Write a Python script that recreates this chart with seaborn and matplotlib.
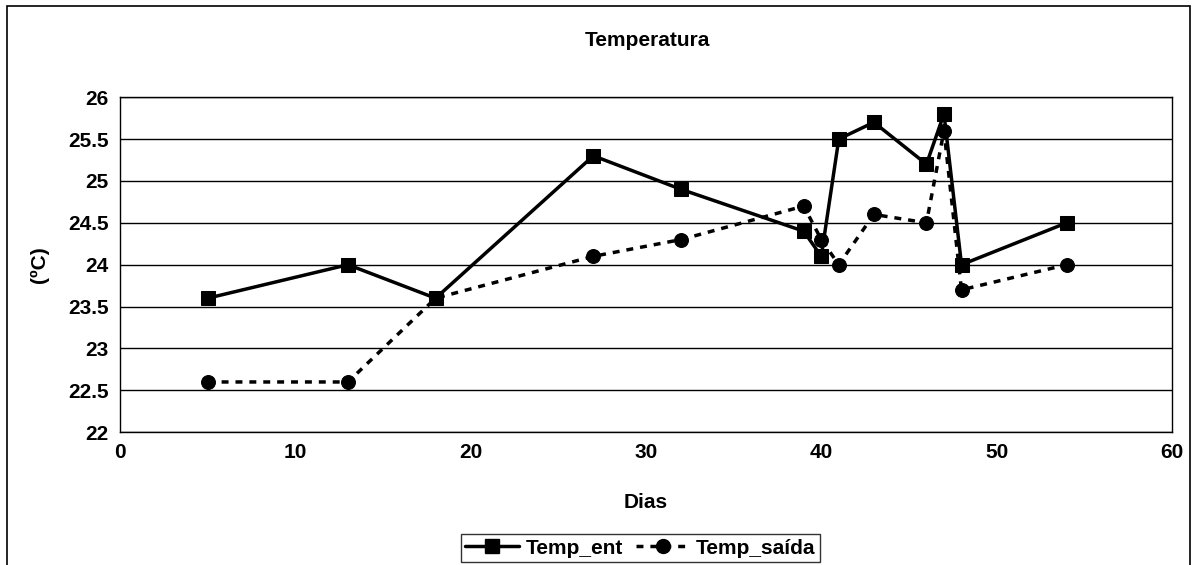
import numpy as np
import pandas as pd
import matplotlib
matplotlib.use("Agg")
import matplotlib.pyplot as plt
import seaborn as sns
from matplotlib.lines import Line2D
from matplotlib.patches import Rectangle

DIAS = [5, 13, 18, 27, 32, 39, 40, 41, 43, 46, 47, 48, 54]
TEMP_ENT = [23.6, 24.0, 23.6, 25.3, 24.9, 24.4, 24.1, 25.5, 25.7, 25.2, 25.8, 24.0, 24.5]
TEMP_SAIDA = [22.6, 22.6, 23.6, 24.1, 24.3, 24.7, 24.3, 24.0, 24.6, 24.5, 25.6, 23.7, 24.0]
SERIES = ["Temp_ent", "Temp_saída"]
Y_TICKS = [22, 22.5, 23, 23.5, 24, 24.5, 25, 25.5, 26]
X_TICKS = [0, 10, 20, 30, 40, 50, 60]

sns.set_style("white")
plt.rcParams["font.family"] = ["Liberation Sans", "DejaVu Sans"]
plt.rcParams["font.weight"] = "bold"
plt.rcParams["text.color"] = "black"
plt.rcParams["axes.labelcolor"] = "black"
plt.rcParams["xtick.color"] = "black"
plt.rcParams["ytick.color"] = "black"

df = pd.concat([
    pd.DataFrame({"Dias": DIAS, "temp": TEMP_ENT, "serie": SERIES[0]}),
    pd.DataFrame({"Dias": DIAS, "temp": TEMP_SAIDA, "serie": SERIES[1]}),
])

fig = plt.figure(figsize=(11.97, 5.65), dpi=100)
ax = fig.add_axes([0.1003, 0.235, 0.8787, 0.593])

sns.lineplot(
    data=df, x="Dias", y="temp", style="serie", hue="serie",
    palette=["black", "black"], markers=["s", "o"],
    dashes=[(None, None), (2, 2)], linewidth=2.5, markersize=10,
    markeredgecolor="black", sort=False, legend=False, ax=ax,
)

ax.set_xlim(0, 60)
ax.set_ylim(22, 26)
ax.set_xticks(X_TICKS)
ax.set_yticks(Y_TICKS)
ax.set_yticklabels([f"{v:g}" for v in Y_TICKS])
ax.yaxis.grid(True, color="black", linewidth=1)
ax.tick_params(axis="both", direction="out", length=5, width=1, color="black",
               labelcolor="black", labelsize=15, pad=3)
for lab in ax.get_xticklabels() + ax.get_yticklabels():
    lab.set_fontweight("bold")
for s in ax.spines.values():
    s.set_color("black")
    s.set_linewidth(1)

ax.set_xlabel("Dias", fontsize=15, fontweight="bold", labelpad=22)
ax.set_ylabel("(ºC)", fontsize=15, fontweight="bold", labelpad=14)
fig.text(0.5408, 0.929, "Temperatura", ha="center", va="center",
         fontsize=15, fontweight="bold")

handles = [
    Line2D([], [], color="black", linewidth=2.5, marker="s", markersize=10),
    Line2D([], [], color="black", linewidth=2.5, linestyle=(0, (2, 2)),
           marker="o", markersize=10),
]
leg = fig.legend(handles, SERIES, loc="center", bbox_to_anchor=(0.535, 0.030),
                 ncol=2, frameon=True, fancybox=False, edgecolor="black",
                 fontsize=15, handlelength=2.6, columnspacing=0.6,
                 handletextpad=0.3, borderpad=0.2, borderaxespad=0)
leg.get_frame().set_linewidth(1)
for t in leg.get_texts():
    t.set_fontweight("bold")

fig.patches.append(Rectangle((0.006, -0.01), 0.988, 1.0, transform=fig.transFigure,
                             fill=False, edgecolor="black", linewidth=1.2))

fig.savefig("out.png", dpi=100)
